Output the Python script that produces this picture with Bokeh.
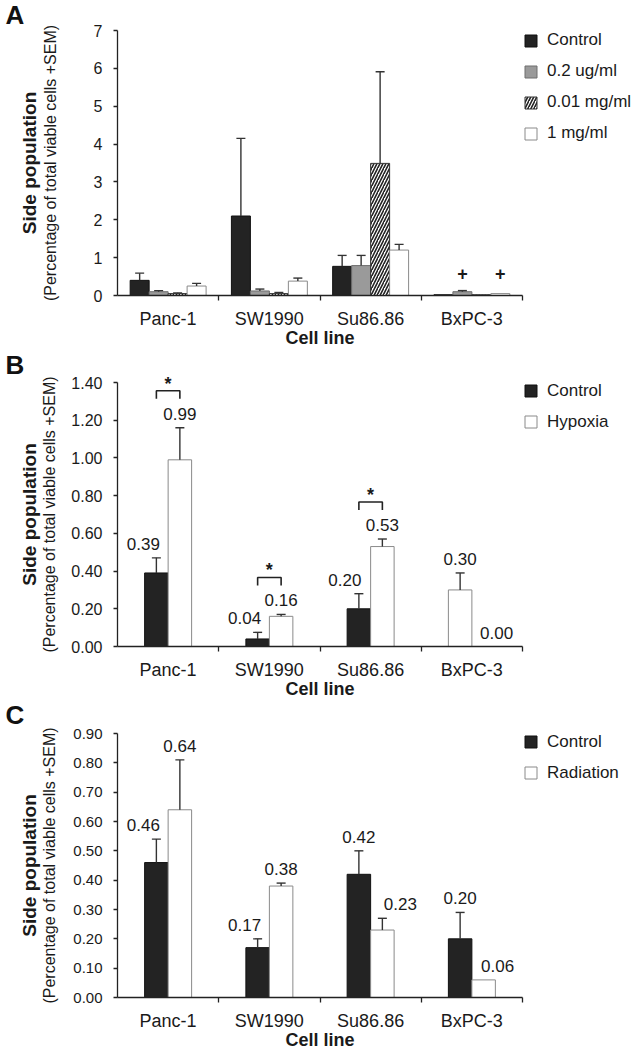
import numpy as np
from bokeh.plotting import figure
from bokeh.core.properties import value
from bokeh.models import (ColumnDataSource, Range1d, FixedTicker, LinearAxis, Whisker, TeeHead,
                          LabelSet, Label, Legend, LegendItem, NumeralTickFormatter)
from bokeh.layouts import column
from bokeh.embed import file_html
from bokeh.resources import INLINE

# ---------------- data ----------------
cell_lines = ["Panc-1", "SW1990", "Su86.86", "BxPC-3"]

# Panel A
a_series = ["Control", "0.2 ug/ml", "0.01 mg/ml", "1 mg/ml"]
a_control = [0.40, 2.10, 0.77, 0.02]
a_control_err = [0.59, 4.15, 1.06, 0.02]
a_low = [0.10, 0.12, 0.79, 0.10]
a_low_err = [0.13, 0.17, 1.06, 0.13]
a_mid = [0.05, 0.05, 3.49, 0.02]
a_mid_err = [0.07, 0.08, 5.91, 0.02]
a_high = [0.25, 0.38, 1.20, 0.05]
a_high_err = [0.32, 0.46, 1.35, 0.05]
a_plus_marks = [("BxPC-3", "0.2 ug/ml"), ("BxPC-3", "1 mg/ml")]
a_ticks = [0, 1, 2, 3, 4, 5, 6, 7]

# Panel B
b_series = ["Control", "Hypoxia"]
b_control = [0.39, 0.04, 0.20, 0.30]
b_control_err = [0.47, 0.075, 0.28, 0.39]
b_hypoxia = [0.99, 0.16, 0.53, 0.00]
b_hypoxia_err = [1.16, 0.17, 0.57, 0.00]
b_significant = [True, True, True, False]
b_ticks = [0.0, 0.2, 0.4, 0.6, 0.8, 1.0, 1.2, 1.4]

# Panel C
c_series = ["Control", "Radiation"]
c_control = [0.46, 0.17, 0.42, 0.20]
c_control_err = [0.54, 0.20, 0.50, 0.29]
c_radiation = [0.64, 0.38, 0.23, 0.06]
c_radiation_err = [0.81, 0.39, 0.27, 0.06]
c_ticks = [0.0, 0.1, 0.2, 0.3, 0.4, 0.5, 0.6, 0.7, 0.8, 0.9]

# ---------------- styles ----------------
FONT = "Liberation Sans"
TXT = "#1a1a1a"
DARK = "#232323"
ERR = "#333333"
STYLE = {
    "Control": dict(fill_color=DARK, line_color="#111111"),
    "0.2 ug/ml": dict(fill_color="#9a9a9a", line_color="#6e6e6e"),
    "0.01 mg/ml": dict(fill_color="white", line_color="#333333", hatch_pattern="/",
                       hatch_color="#222222", hatch_scale=6, hatch_weight=1.6),
    "1 mg/ml": dict(fill_color="white", line_color="#8a8a8a"),
    "Hypoxia": dict(fill_color="white", line_color="#8a8a8a"),
    "Radiation": dict(fill_color="white", line_color="#8a8a8a"),
}
# bar drawn white in the original figure
FILL_OVERRIDES = {("B", "Control", "BxPC-3"): ("white", "#8a8a8a")}
# horizontal shifts (px) of value labels, as in the original
LABEL_SHIFT = {
    ("B", "Control"): [-13, -13, -14, 0],
    ("B", "Hypoxia"): [0, 0, 0, 13],
    ("C", "Control"): [-13, -13, 0, 0],
    ("C", "Radiation"): [0, 0, 18, 14],
}

FIG_W = 636
FIG_H = 350
LEFT, RIGHT = 117, 114          # plot area (axes box) inside each panel, px
ROW_H, ROW_GAP = 20, 11         # legend rows


def make_panel(letter, series, values, errs, ticks, fmt, axis_top, axis_bottom,
               bar_w, tick_px, ylab_standoff, legend_top, letter_y, show_labels):
    ncat = len(cell_lines)
    y_end = ticks[-1]
    ppu = (axis_bottom - axis_top) / y_end
    xppu = (FIG_W - LEFT - RIGHT) / ncat
    x_rng = Range1d(-LEFT / xppu, ncat + RIGHT / xppu)
    y_rng = Range1d(-(FIG_H - axis_bottom) / ppu, y_end + axis_top / ppu)

    p = figure(width=FIG_W, height=FIG_H, x_range=x_rng, y_range=y_rng,
               output_backend="svg", toolbar_location=None,
               x_axis_type=None, y_axis_type=None,
               min_border=0, min_border_left=0, min_border_right=0,
               min_border_top=0, min_border_bottom=0)
    p.outline_line_color = None
    p.background_fill_color = "white"
    p.border_fill_color = "white"

    # x axis: labels at category centres, ticks at category borders
    centers = [i + 0.5 for i in range(ncat)]
    xaxis = LinearAxis(ticker=FixedTicker(ticks=centers, minor_ticks=list(range(1, ncat + 1))),
                       fixed_location=0, bounds=(0, ncat),
                       major_label_overrides={c: n for c, n in zip(centers, cell_lines)},
                       major_tick_out=0, major_tick_in=0, minor_tick_out=5, minor_tick_in=0,
                       major_label_standoff=8,
                       major_label_text_font=FONT, major_label_text_font_size="18px",
                       major_label_text_color=TXT,
                       axis_label="Cell line", axis_label_standoff=-4,
                       axis_label_text_font=FONT, axis_label_text_font_size="18px",
                       axis_label_text_font_style="bold", axis_label_text_color=TXT,
                       axis_line_color="#222222", axis_line_width=1.3,
                       minor_tick_line_color="#222222", minor_tick_line_width=1.3)
    p.add_layout(xaxis, "below")

    yaxis = LinearAxis(ticker=FixedTicker(ticks=ticks), fixed_location=0, bounds=(0, y_end),
                       major_tick_out=4, major_tick_in=0, minor_tick_out=0, minor_tick_in=0,
                       major_label_standoff=11,
                       major_label_text_font=FONT, major_label_text_font_size=tick_px,
                       major_label_text_color=TXT,
                       axis_label="(Percentage of total viable cells +SEM)",
                       axis_label_standoff=ylab_standoff,
                       axis_label_text_font=FONT, axis_label_text_font_size="16px",
                       axis_label_text_font_style="normal", axis_label_text_color=TXT,
                       axis_line_color="#222222", axis_line_width=1.3,
                       major_tick_line_color="#222222", major_tick_line_width=1.3)
    if fmt:
        yaxis.formatter = NumeralTickFormatter(format=fmt)
    p.add_layout(yaxis, "left")
    yaxis2 = LinearAxis(ticker=FixedTicker(ticks=[]), fixed_location=0, bounds=(0, y_end),
                        major_tick_out=0, minor_tick_out=0, major_label_standoff=0,
                        major_label_text_font_size="0px", axis_line_color=None,
                        axis_label="Side population", axis_label_standoff=78,
                        axis_label_text_font=FONT, axis_label_text_font_size="19px",
                        axis_label_text_font_style="bold", axis_label_text_color=TXT)
    p.add_layout(yaxis2, "left")

    n = len(series)
    offsets = (np.arange(n) - (n - 1) / 2) * bar_w
    items = []
    bar_info = []
    for k, name in enumerate(series):
        vals = values[k]
        er = errs[k]
        xs = [c + offsets[k] for c in centers]
        st = dict(STYLE[name])
        fills, lines = [], []
        for cl in cell_lines:
            ov = FILL_OVERRIDES.get((letter, name, cl))
            fills.append(ov[0] if ov else st["fill_color"])
            lines.append(ov[1] if ov else st["line_color"])
        st.pop("fill_color")
        st.pop("line_color")
        src = ColumnDataSource(dict(x=xs, top=vals, fc=fills, lc=lines))
        r = p.vbar(x="x", top="top", width=bar_w, source=src, fill_color="fc",
                   line_color="lc", line_width=1, **st)
        items.append(LegendItem(label=name, renderers=[r]))

        # error bars (upper only)
        mask = [e > v + 1e-9 for v, e in zip(vals, er)]
        wsrc = ColumnDataSource(dict(
            base=[x for x, m in zip(xs, mask) if m],
            lower=[v for v, m in zip(vals, mask) if m],
            upper=[e for e, m in zip(er, mask) if m]))
        p.add_layout(Whisker(source=wsrc, base="base", lower="lower", upper="upper",
                             dimension="height", line_color=ERR, line_width=1.4,
                             upper_head=TeeHead(size=9, line_color=ERR, line_width=1.4),
                             lower_head=None, level="glyph"))

        if show_labels:
            shift = LABEL_SHIFT.get((letter, name), [0] * ncat)
            lsrc = ColumnDataSource(dict(x=xs, y=[max(v, e) for v, e in zip(vals, er)],
                                         text=[f"{v:.2f}" for v in vals], xo=shift))
            p.add_layout(LabelSet(x="x", y="y", text="text", source=lsrc, x_offset="xo",
                                  y_offset=14, text_align="center", text_baseline="middle",
                                  text_font=value(FONT), text_font_size="17px",
                                  text_color=TXT))
        bar_info.append((xs, vals, er))

    # legend, right of the axes box
    leg_h = n * ROW_H + (n - 1) * ROW_GAP
    legend = Legend(items=items, location=(LEFT + 4 * xppu + 1, FIG_H - legend_top - leg_h),
                    glyph_width=15, glyph_height=15, label_height=ROW_H, spacing=ROW_GAP,
                    label_standoff=9, padding=0, margin=0, border_line_color=None,
                    background_fill_alpha=0, label_text_font=FONT,
                    label_text_font_size="17px", label_text_color=TXT)
    p.add_layout(legend)

    # panel letter
    p.add_layout(Label(x=(5 - LEFT) / xppu, y=y_end + (axis_top - letter_y) / ppu, text=letter,
                       text_font=FONT, text_font_size="26px", text_font_style="bold",
                       text_color="#111111", text_align="left", text_baseline="middle"))
    return p, bar_info, ppu


# Panel A
pA, infoA, ppuA = make_panel("A", a_series, [a_control, a_low, a_mid, a_high],
                             [a_control_err, a_low_err, a_mid_err, a_high_err],
                             a_ticks, None, 30, 295, 0.1875, "16px", 32, 30, 14, False)
plus_x = [infoA[a_series.index(s)][0][cell_lines.index(c)] for c, s in a_plus_marks]
pA.add_layout(LabelSet(x="x", y="y", text="t", source=ColumnDataSource(dict(
    x=plus_x, y=[0] * len(plus_x), t=["+"] * len(plus_x))),
    y_offset=22, text_align="center", text_baseline="middle", text_font=value(FONT),
    text_font_size="18px", text_font_style="bold", text_color=TXT))

# Panel B
pB, infoB, ppuB = make_panel("B", b_series, [b_control, b_hypoxia],
                             [b_control_err, b_hypoxia_err],
                             b_ticks, "0.00", 32, 296, 0.232, "16px", 10, 30.7, 14, True)
xs_c, _, _ = infoB[0]
xs_h, _, err_h = infoB[1]
bx, by, sx, sy = [], [], [], []
for i, sig in enumerate(b_significant):
    if not sig:
        continue
    yb = err_h[i] + 37 / ppuB
    leg = 8 / ppuB
    bx.append([xs_c[i], xs_c[i], xs_h[i], xs_h[i]])
    by.append([yb - leg, yb, yb, yb - leg])
    sx.append((xs_c[i] + xs_h[i]) / 2)
    sy.append(yb)
pB.multi_line(xs=bx, ys=by, line_color="#222222", line_width=1.6)
pB.add_layout(LabelSet(x="x", y="y", text="t", source=ColumnDataSource(dict(
    x=sx, y=sy, t=["*"] * len(sx))), y_offset=1, text_align="center",
    text_baseline="alphabetic", text_font=value(FONT), text_font_size="18px",
    text_font_style="bold", text_color=TXT))

# Panel C
pC, _, _ = make_panel("C", c_series, [c_control, c_radiation],
                      [c_control_err, c_radiation_err],
                      c_ticks, "0.00", 33, 297, 0.232, "15px", 12, 31.7, 14, True)

layout = column(pA, pB, pC, spacing=0)
open("out.html", "w").write(file_html(layout, INLINE))
